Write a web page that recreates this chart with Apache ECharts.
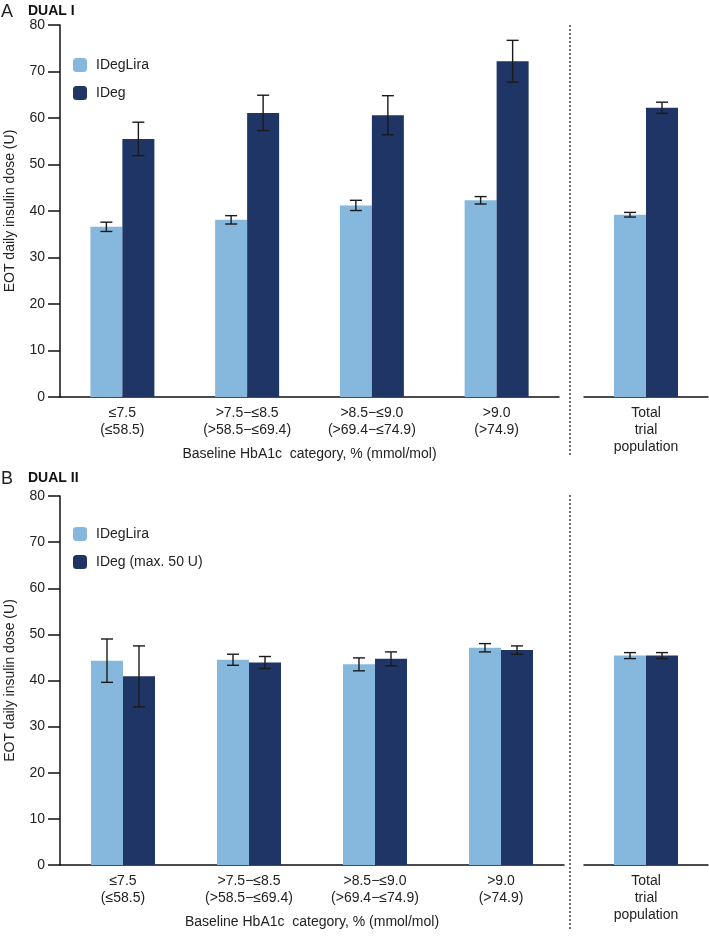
<!DOCTYPE html>
<html>
<head>
<meta charset="utf-8">
<script src="https://cdn.jsdelivr.net/npm/echarts@6/dist/echarts.min.js"></script>
<style>
  html, body { margin: 0; padding: 0; background: #fff; }
  #chart { width: 709px; height: 939px; }
</style>
</head>
<body>
<div id="chart"></div>
<script>
// categories
var categories = ['≤7.5\n(≤58.5)', '>7.5−≤8.5\n(>58.5−≤69.4)', '>8.5−≤9.0\n(>69.4−≤74.9)', '>9.0\n(>74.9)'];
var totalCategory = ['Total\ntrial\npopulation'];
var yTicks = [0, 10, 20, 30, 40, 50, 60, 70, 80];

// DUAL I
var dual1Lira = [36.6, 38.1, 41.2, 42.3];
var dual1LiraErr = [1.0, 0.9, 1.1, 0.8];
var dual1Deg = [55.5, 61.1, 60.6, 72.2];
var dual1DegErr = [3.6, 3.8, 4.2, 4.5];
var dual1TotalLira = [39.2];
var dual1TotalLiraErr = [0.5];
var dual1TotalDeg = [62.2];
var dual1TotalDegErr = [1.2];

// DUAL II
var dual2Lira = [44.3, 44.5, 43.5, 47.1];
var dual2LiraErr = [4.7, 1.2, 1.4, 0.9];
var dual2Deg = [40.9, 43.9, 44.7, 46.6];
var dual2DegErr = [6.6, 1.3, 1.5, 0.9];
var dual2TotalLira = [45.4];
var dual2TotalLiraErr = [0.65];
var dual2TotalDeg = [45.4];
var dual2TotalDegErr = [0.65];

var LIGHT = '#86b8de';
var DARK = '#1f3565';
var FONT = 'Liberation Sans, Arial, sans-serif';
var BAR_W = 32;

var chart = echarts.init(document.getElementById('chart'));

function errRender(offset) {
  return function (params, api) {
    var idx = api.value(0);
    var v = api.value(1);
    var e = api.value(2);
    var top = api.coord([idx, v + e]);
    var bot = api.coord([idx, v - e]);
    var x = top[0] + offset;
    var st = { stroke: '#1a1a1a', lineWidth: 1.4 };
    return {
      type: 'group',
      children: [
        { type: 'line', shape: { x1: x, y1: top[1], x2: x, y2: bot[1] }, style: st },
        { type: 'line', shape: { x1: x - 6, y1: top[1], x2: x + 6, y2: top[1] }, style: st },
        { type: 'line', shape: { x1: x - 6, y1: bot[1], x2: x + 6, y2: bot[1] }, style: st }
      ]
    };
  };
}

function errData(vals, errs) {
  return vals.map(function (v, i) { return [i, v, errs[i]]; });
}

function barSeries(name, data, color, axis) {
  return {
    name: name, type: 'bar', xAxisIndex: axis, yAxisIndex: axis,
    data: data, barWidth: BAR_W, barGap: '0%',
    itemStyle: { color: color }, silent: true
  };
}

function errSeries(vals, errs, offset, axis) {
  return {
    type: 'custom', xAxisIndex: axis, yAxisIndex: axis,
    renderItem: errRender(offset), data: errData(vals, errs), silent: true, z: 5
  };
}

function mainX(grid) {
  return {
    type: 'category', gridIndex: grid, data: categories,
    axisLine: { lineStyle: { color: '#111', width: 1.5 } },
    axisTick: { show: false },
    axisLabel: { color: '#222', fontSize: 14, fontFamily: FONT, lineHeight: 17, margin: 8, interval: 0 },
    name: 'Baseline HbA1c  category, % (mmol/mol)',
    nameLocation: 'middle', nameGap: 50,
    nameTextStyle: { color: '#222', fontSize: 14, fontFamily: FONT }
  };
}

function totalX(grid) {
  return {
    type: 'category', gridIndex: grid, data: totalCategory,
    axisLine: { lineStyle: { color: '#111', width: 1.5 } },
    axisTick: { show: false },
    axisLabel: { color: '#222', fontSize: 14, fontFamily: FONT, lineHeight: 17, margin: 8 }
  };
}

function mainY(grid) {
  return {
    type: 'value', gridIndex: grid, min: 0, max: 80, interval: 10,
    splitLine: { show: false },
    axisLine: { show: true, lineStyle: { color: '#111', width: 1.5 } },
    axisTick: { show: true, length: 12, lineStyle: { color: '#111', width: 1.5 } },
    axisLabel: { color: '#222', fontSize: 14, fontFamily: FONT, margin: 15,
      customValues: yTicks },
    name: 'EOT daily insulin dose (U)',
    nameLocation: 'middle', nameGap: 43,
    nameTextStyle: { color: '#222', fontSize: 14, fontFamily: FONT }
  };
}

function totalY(grid) {
  return {
    type: 'value', gridIndex: grid, min: 0, max: 80, interval: 10,
    show: false, splitLine: { show: false }
  };
}

function legendFor(names, top) {
  return {
    data: names, orient: 'vertical', left: 73, top: top, padding: 0,
    itemWidth: 14, itemHeight: 14, itemGap: 14, selectedMode: false,
    textStyle: { color: '#222', fontSize: 14, fontFamily: FONT, padding: [0, 0, 0, 4] }
  };
}

var option = {
  animation: false,
  backgroundColor: '#fff',
  textStyle: { fontFamily: FONT },
  grid: [
    { left: 60, top: 25, width: 499, height: 372, outerBoundsMode: 'none' },
    { left: 584, top: 25, width: 124, height: 372, outerBoundsMode: 'none' },
    { left: 60, top: 496, width: 504, height: 369, outerBoundsMode: 'none' },
    { left: 584, top: 496, width: 124, height: 369, outerBoundsMode: 'none' }
  ],
  xAxis: [mainX(0), totalX(1), mainX(2), totalX(3)],
  yAxis: [mainY(0), totalY(1), mainY(2), totalY(3)],
  legend: [
    legendFor(['IDegLira', 'IDeg'], 58),
    legendFor(['IDegLira', 'IDeg (max. 50 U)'], 527)
  ],
  graphic: [
    { type: 'text', left: 1, top: 3, style: { text: 'A', fontSize: 18, fontFamily: FONT, fill: '#222' } },
    { type: 'text', left: 28, top: 4, style: { text: 'DUAL I', fontSize: 14, fontWeight: 'bold', fontFamily: FONT, fill: '#111' } },
    { type: 'text', left: 1, top: 470, style: { text: 'B', fontSize: 18, fontFamily: FONT, fill: '#222' } },
    { type: 'text', left: 28, top: 471, style: { text: 'DUAL II', fontSize: 14, fontWeight: 'bold', fontFamily: FONT, fill: '#111' } },
    { type: 'line', shape: { x1: 570, y1: 25, x2: 570, y2: 456 },
      style: { stroke: '#222', lineWidth: 1.3, lineDash: [2, 2] } },
    { type: 'line', shape: { x1: 570, y1: 495, x2: 570, y2: 929 },
      style: { stroke: '#222', lineWidth: 1.3, lineDash: [2, 2] } }
  ],
  series: [
    barSeries('IDegLira', dual1Lira, LIGHT, 0),
    barSeries('IDeg', dual1Deg, DARK, 0),
    errSeries(dual1Lira, dual1LiraErr, -BAR_W / 2, 0),
    errSeries(dual1Deg, dual1DegErr, BAR_W / 2, 0),

    barSeries('IDegLira', dual1TotalLira, LIGHT, 1),
    barSeries('IDeg', dual1TotalDeg, DARK, 1),
    errSeries(dual1TotalLira, dual1TotalLiraErr, -BAR_W / 2, 1),
    errSeries(dual1TotalDeg, dual1TotalDegErr, BAR_W / 2, 1),

    barSeries('IDegLira', dual2Lira, LIGHT, 2),
    barSeries('IDeg (max. 50 U)', dual2Deg, DARK, 2),
    errSeries(dual2Lira, dual2LiraErr, -BAR_W / 2, 2),
    errSeries(dual2Deg, dual2DegErr, BAR_W / 2, 2),

    barSeries('IDegLira', dual2TotalLira, LIGHT, 3),
    barSeries('IDeg (max. 50 U)', dual2TotalDeg, DARK, 3),
    errSeries(dual2TotalLira, dual2TotalLiraErr, -BAR_W / 2, 3),
    errSeries(dual2TotalDeg, dual2TotalDegErr, BAR_W / 2, 3)
  ]
};

chart.setOption(option);
</script>
</body>
</html>
